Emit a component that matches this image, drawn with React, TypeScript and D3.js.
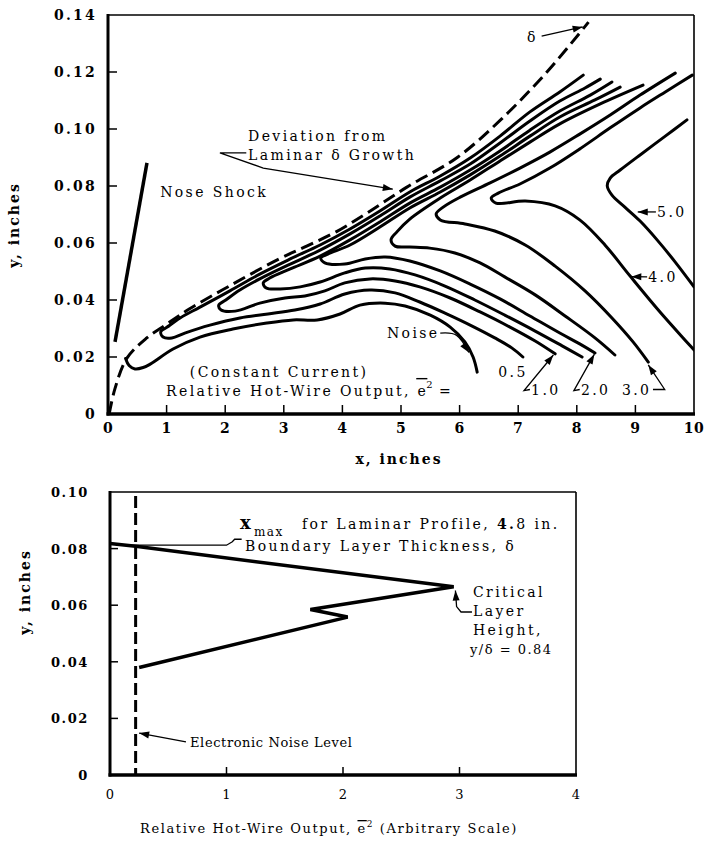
import React from "react";
import * as d3 from "d3";

type Pt = [number, number];

const FONT = "'DejaVu Serif', 'Liberation Serif', serif";

// ---------- upper panel: x, y in inches ----------
const boundaryLayerEdge: Pt[] = [
  [0.02, 0.0], [0.12, 0.009], [0.32, 0.0195], [0.65, 0.0265], [1.0, 0.0315],
  [1.4, 0.037], [2.08, 0.045], [2.88, 0.054], [3.4, 0.059], [3.9, 0.064],
  [4.42, 0.0705], [5.1, 0.0796], [5.96, 0.09], [6.74, 0.104], [7.49, 0.12], [8.2, 0.1375],
];

const noseShock: Pt[] = [[0.12, 0.0253], [0.665, 0.0881]];

const noiseContour: Pt[] = [
  [0.3, 0.0195], [0.36, 0.017], [0.46, 0.0158], [0.6, 0.0163], [0.72, 0.0175],
  [1.11, 0.0228], [1.57, 0.027], [2.13, 0.0298], [2.71, 0.0319], [3.16, 0.033],
  [3.57, 0.033], [3.96, 0.0351], [4.3, 0.0382], [4.73, 0.0389], [5.07, 0.0379],
  [5.5, 0.0347], [5.84, 0.0305], [6.09, 0.0253], [6.23, 0.02], [6.3, 0.0147],
];

const contour05: Pt[] = [
  [8.11, 0.1189], [7.71, 0.113], [7.2, 0.106], [6.69, 0.0975], [6.18, 0.0898],
  [5.67, 0.0835], [5.15, 0.0779], [4.64, 0.0712], [4.13, 0.0649], [3.62, 0.0593],
  [3.11, 0.0544], [2.59, 0.0491], [2.08, 0.0432], [1.57, 0.0375], [1.23, 0.0337],
  [1.01, 0.0305], [0.9, 0.0288], [0.94, 0.027], [1.09, 0.0267], [1.31, 0.0284],
  [1.74, 0.0312], [2.25, 0.0337], [2.73, 0.0351], [3.19, 0.0365], [3.62, 0.0386],
  [4.04, 0.0421], [4.47, 0.0435], [4.9, 0.0425], [5.32, 0.0393], [5.75, 0.0354],
  [6.18, 0.0312], [6.6, 0.0267], [6.89, 0.0232], [7.08, 0.02],
];

const contour10: Pt[] = [
  [8.4, 0.1175], [8.14, 0.1144], [7.71, 0.1098], [7.2, 0.1028], [6.69, 0.0951],
  [6.18, 0.0877], [5.67, 0.0818], [5.15, 0.0761], [4.64, 0.0695], [4.13, 0.0632],
  [3.62, 0.0575], [3.11, 0.0526], [2.59, 0.0474], [2.25, 0.0435], [2.01, 0.04],
  [1.89, 0.0382], [1.93, 0.0365], [2.17, 0.0361], [2.59, 0.0389], [3.02, 0.0407],
  [3.36, 0.0414], [3.7, 0.0432], [4.04, 0.046], [4.47, 0.0474], [4.9, 0.0467],
  [5.32, 0.0446], [5.84, 0.0407], [6.35, 0.0358], [6.86, 0.0305], [7.29, 0.0256],
  [7.63, 0.0211],
];

const contour15: Pt[] = [
  [8.6, 0.1165], [8.23, 0.1119], [7.71, 0.1063], [7.2, 0.0996], [6.69, 0.0923],
  [6.18, 0.0856], [5.67, 0.0796], [5.15, 0.074], [4.64, 0.0674], [4.13, 0.0611],
  [3.62, 0.0554], [3.11, 0.0509], [2.76, 0.0477], [2.65, 0.046], [2.7, 0.0442],
  [2.94, 0.0439], [3.28, 0.0446], [3.62, 0.0463], [4.04, 0.0495], [4.39, 0.0512],
  [4.81, 0.0509], [5.24, 0.0488], [5.75, 0.0449], [6.26, 0.04], [6.77, 0.0347],
  [7.29, 0.0291], [7.75, 0.0239], [8.09, 0.02],
];

const contour20: Pt[] = [
  [8.74, 0.1147], [8.31, 0.1102], [7.71, 0.1042], [7.2, 0.0975], [6.69, 0.0905],
  [6.18, 0.0839], [5.67, 0.0779], [5.15, 0.0723], [4.64, 0.0656], [4.13, 0.0593],
  [3.75, 0.0561], [3.63, 0.0547], [3.7, 0.053], [4.04, 0.0526], [4.39, 0.0544],
  [4.73, 0.0551], [5.15, 0.0537], [5.67, 0.0502], [6.18, 0.0456], [6.69, 0.0404],
  [7.2, 0.0344], [7.71, 0.0284], [8.05, 0.0246], [8.31, 0.0214],
];

const contour25: Pt[] = [
  [9.13, 0.1154], [8.4, 0.1088], [7.71, 0.1018], [7.2, 0.0954], [6.69, 0.0888],
  [6.18, 0.0821], [5.67, 0.0758], [5.15, 0.0684], [4.93, 0.0639], [4.83, 0.0611],
  [4.9, 0.0589], [5.15, 0.0586], [5.49, 0.0582], [5.92, 0.0565], [6.35, 0.053],
  [6.77, 0.0481], [7.29, 0.0418], [7.8, 0.0344], [8.31, 0.0267], [8.65, 0.0207],
];

const contour30: Pt[] = [
  [9.68, 0.1196], [9.08, 0.1119], [8.57, 0.1049], [8.05, 0.0982], [7.54, 0.0919],
  [7.03, 0.0863], [6.52, 0.0811], [6.01, 0.0761], [5.72, 0.0726], [5.6, 0.0702],
  [5.67, 0.0681], [6.09, 0.0667], [6.6, 0.0642], [7.12, 0.0593], [7.63, 0.0519],
  [8.14, 0.0432], [8.6, 0.0337], [8.96, 0.0253], [9.22, 0.0182],
];

const contour40: Pt[] = [
  [9.97, 0.1189], [9.51, 0.113], [9.08, 0.1074], [8.57, 0.1004], [8.05, 0.093],
  [7.54, 0.0863], [7.03, 0.0807], [6.66, 0.0775], [6.54, 0.0758], [6.62, 0.074],
  [7.12, 0.0747], [7.63, 0.073], [8.05, 0.0681], [8.48, 0.0593], [8.91, 0.0484],
  [9.42, 0.0358], [10.0, 0.0225],
];

const contour50: Pt[] = [
  [9.88, 0.1032], [9.51, 0.0975], [9.08, 0.0909], [8.74, 0.0856], [8.57, 0.0828],
  [8.52, 0.08], [8.6, 0.0768], [8.82, 0.0726], [9.08, 0.0677], [9.37, 0.0611],
  [9.68, 0.0533], [10.0, 0.0446],
];

const outputContours: Pt[][] = [
  noiseContour, contour05, contour10, contour15, contour20, contour25, contour30, contour40, contour50,
];

const topXTicks = [0, 1, 2, 3, 4, 5, 6, 7, 8, 9, 10];
const topYTicks = [0, 0.02, 0.04, 0.06, 0.08, 0.1, 0.12, 0.14];

// ---------- lower panel: relative output vs y (inches) at x = 4.8 in ----------
const profileOutput = [0, 0.22, 2.95, 1.72, 2.04, 0.25];
const profileHeight = [0.0818, 0.0808, 0.0665, 0.0585, 0.0558, 0.038];
const electronicNoise = 0.22;
const botXTicks = [0, 1, 2, 3, 4];
const botYTicks = [0, 0.02, 0.04, 0.06, 0.08, 0.1];

// ---------- scales ----------
const topX = d3.scaleLinear().domain([0, 10]).range([108, 694]);
const topY = d3.scaleLinear().domain([0, 0.14]).range([414, 15]);
const botX = d3.scaleLinear().domain([0, 4]).range([110, 576]);
const botY = d3.scaleLinear().domain([0, 0.1]).range([775, 492]);

const topPt = (p: Pt): Pt => [topX(p[0]), topY(p[1])];
const botPt = (p: Pt): Pt => [botX(p[0]), botY(p[1])];

const smoothTop = d3
  .line<Pt>()
  .x((d) => topX(d[0]))
  .y((d) => topY(d[1]))
  .curve(d3.curveCatmullRom.alpha(0.5));

const straightTop = d3
  .line<Pt>()
  .x((d) => topX(d[0]))
  .y((d) => topY(d[1]));

const straightBot = d3
  .line<Pt>()
  .x((d) => botX(d[0]))
  .y((d) => botY(d[1]));

function ArrowHead({ tip, from, len = 10, half = 3.5 }: { tip: Pt; from: Pt; len?: number; half?: number }) {
  const dx = tip[0] - from[0];
  const dy = tip[1] - from[1];
  const d = Math.hypot(dx, dy) || 1;
  const ux = dx / d;
  const uy = dy / d;
  const bx = tip[0] - ux * len;
  const by = tip[1] - uy * len;
  const pts = [
    [tip[0], tip[1]],
    [bx - uy * half, by + ux * half],
    [bx + uy * half, by - ux * half],
  ];
  return <polygon points={pts.map((p) => p.join(",")).join(" ")} fill="#000" />;
}

function Leader({ pts, toPx, smooth = false, head = true, width = 1.3 }: {
  pts: Pt[]; toPx: (p: Pt) => Pt; smooth?: boolean; head?: boolean; width?: number;
}) {
  const px = pts.map(toPx);
  const gen = d3.line<Pt>().curve(smooth ? d3.curveNatural : d3.curveLinear);
  return (
    <g>
      <path d={gen(px) || ""} fill="none" stroke="#000" strokeWidth={width} />
      {head && <ArrowHead tip={px[px.length - 1]} from={px[px.length - 2]} />}
    </g>
  );
}

const noteStyle: React.CSSProperties = { fontFamily: FONT, fontSize: 14, letterSpacing: "2.4px" };
const tickStyle: React.CSSProperties = { fontFamily: FONT, fontSize: 14, fontWeight: 700, letterSpacing: "2.2px" };

function Txt({ at, toPx, children, anchor = "start", style = noteStyle }: {
  at: Pt; toPx: (p: Pt) => Pt; children: React.ReactNode; anchor?: "start" | "middle" | "end"; style?: React.CSSProperties;
}) {
  const [x, y] = toPx(at);
  return (
    <text x={x} y={y} textAnchor={anchor} style={style}>
      {children}
    </text>
  );
}

const fmtY = (v: number) => (v === 0 ? "0" : v.toFixed(2));

export default function App() {
  const [tx0, tx1] = topX.range();
  const [ty0, ty1] = topY.range();
  const [bx0, bx1] = botX.range();
  const [by0, by1] = botY.range();

  return (
    <svg
      width={704}
      height={845}
      viewBox="0 0 704 845"
      style={{ position: "absolute", left: 0, top: 0, display: "block", background: "#fff" }}
    >
      <defs>
        <clipPath id="topClip">
          <rect x={tx0} y={ty1} width={tx1 - tx0} height={ty0 - ty1} />
        </clipPath>
      </defs>
      <rect width={704} height={845} fill="#fff" />

      {/* ======== upper panel ======== */}
      <g clipPath="url(#topClip)">
        <path d={smoothTop(boundaryLayerEdge) || ""} fill="none" stroke="#000" strokeWidth={3} strokeDasharray="13 6" />
        {outputContours.map((c, i) => (
          <path key={i} d={smoothTop(c) || ""} fill="none" stroke="#000" strokeWidth={3} strokeLinecap="round" />
        ))}
        <path d={straightTop(noseShock) || ""} fill="none" stroke="#000" strokeWidth={3.5} />
      </g>

      {/* frame */}
      <line x1={tx0} y1={ty1} x2={tx1} y2={ty1} stroke="#000" strokeWidth={1.6} />
      <line x1={tx1} y1={ty1} x2={tx1} y2={ty0} stroke="#000" strokeWidth={1.6} />
      <line x1={tx0} y1={ty1 - 1} x2={tx0} y2={ty0 + 1.5} stroke="#000" strokeWidth={3} />
      <line x1={tx0 - 1.5} y1={ty0} x2={tx1 + 1} y2={ty0} stroke="#000" strokeWidth={3.5} />

      {topXTicks.map((t) => (
        <g key={"tx" + t}>
          {t > 0 && t < 10 && <line x1={topX(t)} x2={topX(t)} y1={ty0} y2={ty0 - 9} stroke="#000" strokeWidth={1.5} />}
          <text x={topX(t)} y={433} textAnchor="middle" style={{ ...tickStyle, letterSpacing: "0.5px" }}>{t}</text>
        </g>
      ))}
      {topYTicks.map((t) => (
        <g key={"ty" + t}>
          {t > 0 && t < 0.14 && <line x1={tx0} x2={tx0 + 9} y1={topY(t)} y2={topY(t)} stroke="#000" strokeWidth={1.5} />}
          <text x={97} y={topY(t) + 5} textAnchor="end" style={tickStyle}>{fmtY(t)}</text>
        </g>
      ))}
      <text x={399} y={464} textAnchor="middle" style={{ ...tickStyle, letterSpacing: "2px" }}>x, inches</text>
      <text transform="translate(19,225) rotate(-90)" textAnchor="middle" style={{ ...tickStyle, letterSpacing: "2px" }}>y, inches</text>

      {/* annotations, upper panel */}
      <Txt at={[7.15, 0.1305]} toPx={topPt}>δ</Txt>
      <Leader pts={[[7.4, 0.1326], [8.1, 0.1358]]} toPx={topPt} />

      <Txt at={[2.39, 0.0958]} toPx={topPt}>Deviation from</Txt>
      <Txt at={[2.39, 0.0891]} toPx={topPt}>Laminar δ Growth</Txt>
      <Leader pts={[[2.36, 0.0916], [1.91, 0.0916], [2.65, 0.0863], [4.86, 0.0789]]} toPx={topPt} />

      <Txt at={[0.89, 0.0761]} toPx={topPt}>Nose Shock</Txt>

      <Txt at={[2.92, 0.013]} toPx={topPt} anchor="middle">(Constant Current)</Txt>
      <Txt at={[5.17, 0.0063]} toPx={topPt} anchor="end">Relative Hot-Wire Output,</Txt>
      <Txt at={[5.28, 0.0063]} toPx={topPt}>e</Txt>
      <Txt at={[5.43, 0.0092]} toPx={topPt} style={{ ...noteStyle, fontSize: 10, letterSpacing: "0px" }}>2</Txt>
      <Leader pts={[[5.26, 0.0124], [5.45, 0.0124]]} toPx={topPt} head={false} width={1.4} />
      <Txt at={[5.65, 0.0063]} toPx={topPt}>=</Txt>

      <Txt at={[4.76, 0.0267]} toPx={topPt}>Noise</Txt>
      <Leader pts={[[5.67, 0.0284], [5.95, 0.0276], [6.16, 0.0216]]} toPx={topPt} smooth />

      <Txt at={[6.66, 0.013]} toPx={topPt}>0.5</Txt>
      <Txt at={[7.22, 0.0067]} toPx={topPt}>1.0</Txt>
      <Leader pts={[[7.2, 0.0086], [7.1, 0.0082], [7.6, 0.0207]]} toPx={topPt} />
      <Txt at={[8.07, 0.0067]} toPx={topPt}>2.0</Txt>
      <Leader pts={[[8.05, 0.0086], [7.95, 0.0082], [8.3, 0.021]]} toPx={topPt} />
      <Txt at={[8.77, 0.0067]} toPx={topPt}>3.0</Txt>
      <Leader pts={[[9.3, 0.0086], [9.5, 0.0086], [9.22, 0.0172]]} toPx={topPt} />
      <Txt at={[9.22, 0.0463]} toPx={topPt}>4.0</Txt>
      <Leader pts={[[9.2, 0.0481], [8.93, 0.0482]]} toPx={topPt} />
      <Txt at={[9.37, 0.0691]} toPx={topPt}>5.0</Txt>
      <Leader pts={[[9.35, 0.0709], [9.04, 0.0709]]} toPx={topPt} />

      {/* ======== lower panel ======== */}
      <line x1={botX(electronicNoise)} x2={botX(electronicNoise)} y1={botY(0.1) + 4} y2={botY(0)} stroke="#000" strokeWidth={3} strokeDasharray="12 5" />
      <path
        d={straightBot(profileOutput.map((v, i) => [v, profileHeight[i]] as Pt)) || ""}
        fill="none"
        stroke="#000"
        strokeWidth={3.5}
        strokeLinejoin="miter"
      />

      <line x1={bx0} y1={by1} x2={bx1} y2={by1} stroke="#000" strokeWidth={1.6} />
      <line x1={bx1} y1={by1} x2={bx1} y2={by0} stroke="#000" strokeWidth={1.6} />
      <line x1={bx0} y1={by1 - 1} x2={bx0} y2={by0 + 1.5} stroke="#000" strokeWidth={3} />
      <line x1={bx0 - 1.5} y1={by0} x2={bx1 + 1} y2={by0} stroke="#000" strokeWidth={3.5} />

      {botXTicks.map((t) => (
        <g key={"bx" + t}>
          {t > 0 && t < 4 && <line x1={botX(t)} x2={botX(t)} y1={by0} y2={by0 - 8} stroke="#000" strokeWidth={1.5} />}
          <text x={botX(t)} y={799} textAnchor="middle" style={{ fontFamily: FONT, fontSize: 13 }}>{t}</text>
        </g>
      ))}
      {botYTicks.map((t) => (
        <g key={"by" + t}>
          {t > 0 && t < 0.1 && <line x1={bx0} x2={bx0 + 8} y1={botY(t)} y2={botY(t)} stroke="#000" strokeWidth={1.5} />}
          <text x={89} y={botY(t) + 5} textAnchor="end" style={{ ...tickStyle, fontSize: 13, letterSpacing: "1.6px" }}>{fmtY(t)}</text>
        </g>
      ))}
      <text transform="translate(30,592) rotate(-90)" textAnchor="middle" style={{ ...tickStyle, letterSpacing: "2px" }}>y, inches</text>
      <text x={329} y={833} textAnchor="middle" style={{ fontFamily: FONT, fontSize: 13, letterSpacing: "1.6px" }}>
        Relative Hot-Wire Output,{" "}
        <tspan style={{ textDecoration: "overline" }}>e</tspan>
        <tspan dy={-6} fontSize={9}>2</tspan>
        <tspan dy={6}> (Arbitrary Scale)</tspan>
      </text>

      {/* annotations, lower panel */}
      <Txt at={[1.116, 0.0869]} toPx={botPt} style={{ fontFamily: FONT, fontSize: 18, fontWeight: 700 }}>x</Txt>
      <Txt at={[1.236, 0.0843]} toPx={botPt} style={{ ...noteStyle, fontSize: 12, letterSpacing: "1.5px" }}>max</Txt>
      <Txt at={[1.648, 0.0869]} toPx={botPt}>
        for Laminar Profile, <tspan fontWeight={700}>4.</tspan>8 in.
      </Txt>
      <Txt at={[1.159, 0.079]} toPx={botPt}>Boundary Layer Thickness, δ</Txt>
      <Leader pts={[[0.05, 0.0812], [1.0, 0.0812], [1.05, 0.0824], [1.07, 0.0833], [1.13, 0.0833]]} toPx={botPt} head={false} />

      <Txt at={[3.116, 0.0629]} toPx={botPt}>Critical</Txt>
      <Txt at={[3.116, 0.0562]} toPx={botPt}>Layer</Txt>
      <Txt at={[3.116, 0.0495]} toPx={botPt}>Height,</Txt>
      <Txt at={[3.09, 0.0428]} toPx={botPt} style={{ ...noteStyle, fontSize: 13, letterSpacing: "1.5px" }}>y/δ = 0.84</Txt>
      <Leader pts={[[3.107, 0.0576], [3.013, 0.0576], [2.975, 0.0595], [2.965, 0.0652]]} toPx={botPt} />

      <Txt at={[0.687, 0.0099]} toPx={botPt} style={{ fontFamily: FONT, fontSize: 13, letterSpacing: "0.6px" }}>Electronic Noise Level</Txt>
      <Leader pts={[[0.652, 0.0117], [0.25, 0.0148]]} toPx={botPt} />
    </svg>
  );
}
